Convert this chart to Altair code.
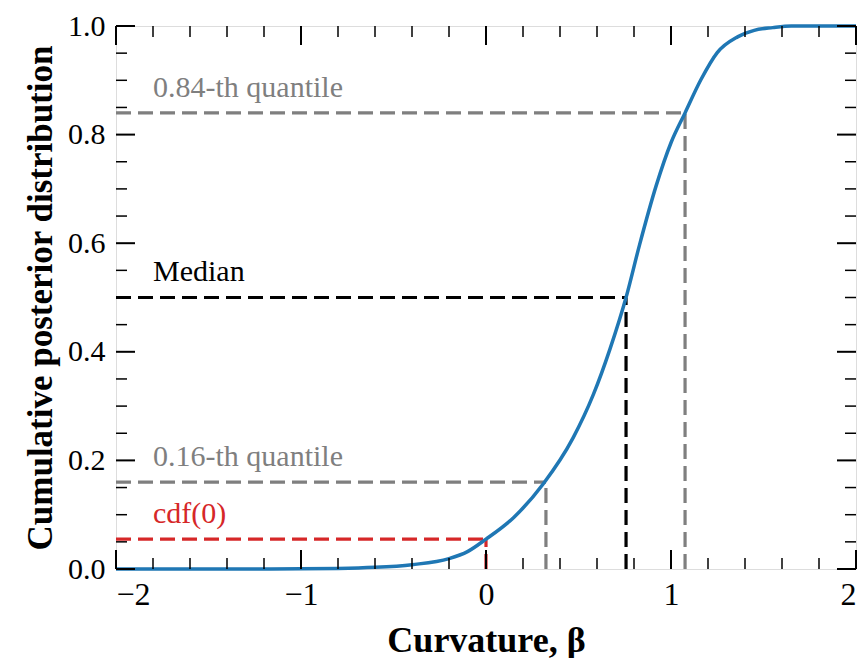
import altair as alt
import pandas as pd

# CDF curve
beta = [-2.0, -1.5, -1.0, -0.8, -0.6, -0.4, -0.2, -0.1, 0.0, 0.15, 0.31, 0.47, 0.58,
        0.67, 0.757, 0.83, 0.92, 1.0, 1.076, 1.16, 1.25, 1.36, 1.45, 1.55, 1.65, 2.0]
cdf = [0.0, 0.0, 0.0005, 0.001, 0.003, 0.008, 0.019, 0.032, 0.055, 0.095, 0.157, 0.241,
       0.321, 0.405, 0.5, 0.597, 0.706, 0.785, 0.84, 0.90, 0.951, 0.98, 0.992, 0.997, 1.0, 1.0]

# Reference markers
marker_names = ["cdf(0)", "0.16-th quantile", "Median", "0.84-th quantile"]
marker_x = [0.0, 0.324, 0.757, 1.076]
marker_y = [0.055, 0.16, 0.5, 0.84]
marker_colors = ["#d62728", "#7f7f7f", "#000000", "#7f7f7f"]

x_major = [-2, -1, 0, 1, 2]
x_minor = [-1.8, -1.6, -1.4, -1.2, -0.8, -0.6, -0.4, -0.2, 0.2, 0.4, 0.6, 0.8,
           1.2, 1.4, 1.6, 1.8]
y_major = [0.0, 0.2, 0.4, 0.6, 0.8, 1.0]
y_minor = [0.05, 0.1, 0.15, 0.25, 0.3, 0.35, 0.45, 0.5, 0.55, 0.65, 0.7, 0.75,
           0.85, 0.9, 0.95]

W, H = 740, 543
FONT = "Liberation Serif"
XMIN = -2.0

xs = alt.Scale(domain=[-2, 2], nice=False, zero=False)
ys = alt.Scale(domain=[0, 1], nice=False, zero=False)

curve_df = pd.DataFrame({"beta": beta, "cdf": cdf})
seg_h = pd.DataFrame({"x": [XMIN] * 4, "x2": marker_x, "y": marker_y, "name": marker_names,
                      "color": marker_colors})
seg_v = pd.DataFrame({"x": marker_x, "y": [0.0] * 4, "y2": marker_y, "name": marker_names,
                      "color": marker_colors})
lab_df = pd.DataFrame({"x": [-1.8] * 4, "y": [v + 0.03 for v in marker_y],
                       "name": marker_names, "color": marker_colors})

xaxis = alt.Axis(values=x_major, format="d", labelFont=FONT, labelFontSize=32,
                 labelColor="black", labelPadding=10, ticks=False, domain=False,
                 grid=False, title="Curvature, β", titleFont=FONT, titleFontSize=36,
                 titleFontWeight="bold", titleColor="black", titlePadding=13)
yaxis = alt.Axis(values=y_major, format=".1f", labelFont=FONT, labelFontSize=30,
                 labelColor="black", labelPadding=11, ticks=False, domain=False,
                 grid=False, title="Cumulative posterior distribution", titleFont=FONT,
                 titleFontSize=35, titleFontWeight="bold", titleColor="black",
                 titlePadding=9)

curve = alt.Chart(curve_df).mark_line(color="#1f77b4", strokeWidth=3.5,
                                      interpolate="monotone").encode(
    x=alt.X("beta:Q", scale=xs, axis=xaxis),
    y=alt.Y("cdf:Q", scale=ys, axis=yaxis),
)

hlines = alt.Chart(seg_h).mark_rule(strokeWidth=3.2, strokeDash=[15, 7]).encode(
    x=alt.X("x:Q", scale=xs), x2="x2:Q", y=alt.Y("y:Q", scale=ys),
    color=alt.Color("color:N", scale=None),
)
vlines = alt.Chart(seg_v).mark_rule(strokeWidth=3.2, strokeDash=[15, 7]).encode(
    x=alt.X("x:Q", scale=xs), y=alt.Y("y:Q", scale=ys), y2="y2:Q",
    color=alt.Color("color:N", scale=None),
)
labels = alt.Chart(lab_df).mark_text(font=FONT, fontSize=30, align="left",
                                     baseline="alphabetic").encode(
    x=alt.X("x:Q", scale=xs), y=alt.Y("y:Q", scale=ys), text="name:N",
    color=alt.Color("color:N", scale=None),
)

def xticks(vals, length, width):
    df = pd.DataFrame({"v": vals})
    bot = alt.Chart(df).mark_rule(color="black", strokeWidth=width).encode(
        x=alt.X("v:Q", scale=xs), y=alt.value(H), y2=alt.value(H - length))
    top = alt.Chart(df).mark_rule(color="black", strokeWidth=width).encode(
        x=alt.X("v:Q", scale=xs), y=alt.value(0), y2=alt.value(length))
    return [bot, top]

def yticks(vals, length, width):
    df = pd.DataFrame({"v": vals})
    left = alt.Chart(df).mark_rule(color="black", strokeWidth=width).encode(
        y=alt.Y("v:Q", scale=ys), x=alt.value(0), x2=alt.value(length))
    right = alt.Chart(df).mark_rule(color="black", strokeWidth=width).encode(
        y=alt.Y("v:Q", scale=ys), x=alt.value(W), x2=alt.value(W - length))
    return [left, right]

ticks = (xticks(x_major, 19, 2) + xticks(x_minor, 11, 1.5) +
         yticks(y_major, 19, 2) + yticks(y_minor, 11, 1.5))

chart = alt.layer(hlines, vlines, curve, labels, *ticks).properties(
    width=W, height=H,
    autosize=alt.AutoSizeParams(type="none"),
    padding={"left": 108, "top": 18, "right": 3, "bottom": 89},
).configure_view(stroke="black", strokeWidth=2.5).configure(background="white")

chart.save("out.html", embed_options={"renderer": "svg", "actions": False})
